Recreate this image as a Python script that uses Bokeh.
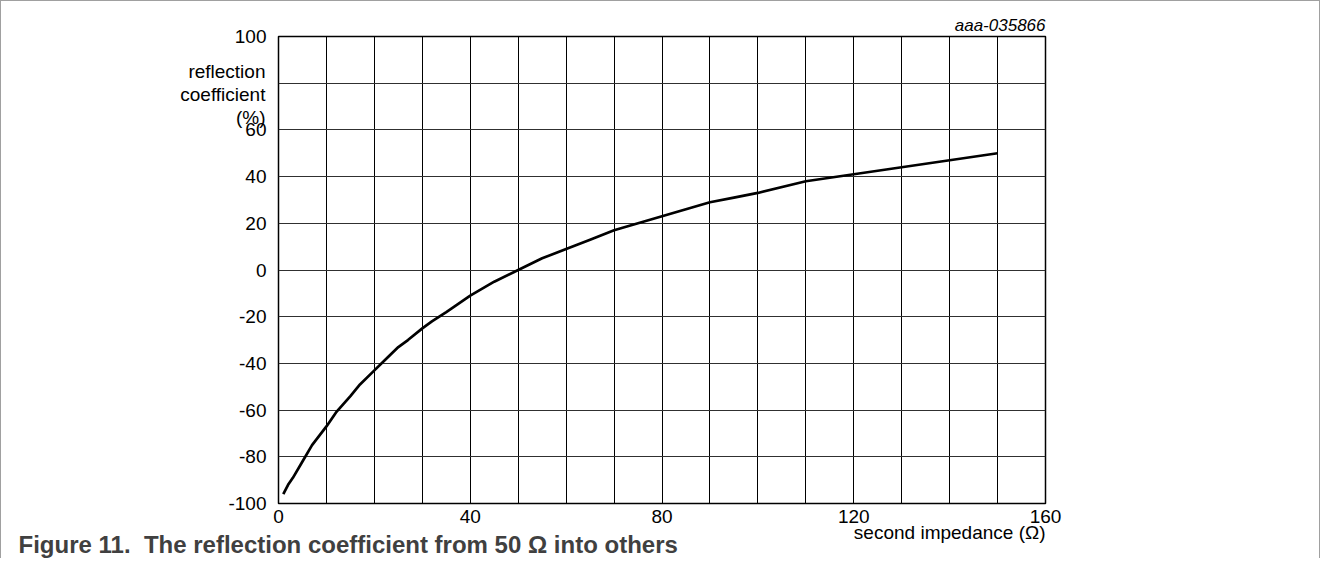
from bokeh.plotting import figure
from bokeh.models import FixedTicker, Range1d, Title
from bokeh.embed import file_html
from bokeh.resources import INLINE

# data
impedance = [1, 2, 3, 5, 7, 10, 12, 15, 17, 20, 22, 25, 27, 30, 32, 35, 40, 45, 50, 55,
             60, 65, 70, 75, 80, 85, 90, 95, 100, 110, 120, 130, 140, 150]
reflection = [-96, -92, -89, -82, -75, -67, -61, -54, -49, -43, -39, -33, -30, -25, -22, -18, -11, -5, 0, 5,
              9, 13, 17, 20, 23, 26, 29, 31, 33, 38, 41, 44, 47, 50]

x_ticks = [0, 40, 80, 120, 160]
x_grid = [0, 10, 20, 30, 40, 50, 60, 70, 80, 90, 100, 110, 120, 130, 140, 150, 160]
y_ticks = [-100, -80, -60, -40, -20, 0, 20, 40, 60, 80, 100]
y_title = "reflection\ncoefficient\n(%)"
x_title = "second impedance (Ω)"
note_text = "aaa-035866"
caption_text = "Figure 11.\u00a0 The reflection coefficient from 50 Ω into others"

FONT = "Liberation Sans"

p = figure(width=1320, height=558, output_backend="svg", toolbar_location=None,
           x_range=Range1d(0, 160), y_range=Range1d(-100, 100),
           min_border_left=277, min_border_right=276, min_border_top=35, min_border_bottom=56)
p.styles = {"border-left": "1px solid #a0a0a0", "border-top": "1px solid #a0a0a0",
            "border-right": "1px solid #a0a0a0"}

p.xaxis.ticker = FixedTicker(ticks=x_ticks, minor_ticks=x_grid)
p.yaxis.ticker = FixedTicker(ticks=y_ticks)
overrides = {t: str(t) for t in y_ticks}
overrides[80] = ""
p.yaxis.major_label_overrides = overrides

for ax in (p.xaxis, p.yaxis):
    ax.axis_line_color = None
    ax.major_tick_line_color = None
    ax.minor_tick_line_color = None
    ax.major_label_text_font = FONT
    ax.major_label_text_font_size = "19px"
    ax.major_label_text_color = "#000000"
    ax.axis_label_text_font = FONT
    ax.axis_label_text_font_size = "19px"
    ax.axis_label_text_font_style = "normal"
    ax.axis_label_text_color = "#000000"
p.xaxis.major_label_standoff = 0
p.yaxis.major_label_standoff = 6

# vertical-axis title: horizontal text at the top-left of the grid
p.yaxis.axis_label = "\n" * 5 + y_title
p.yaxis.axis_label_orientation = "horizontal"
p.yaxis.axis_label_align = "end"
p.yaxis.axis_label_standoff = -40
p.yaxis.axis_label_text_line_height = 1.1

p.xgrid.grid_line_color = "#000000"
p.xgrid.minor_grid_line_color = "#000000"
p.ygrid.grid_line_color = "#303030"
p.outline_line_color = "#000000"
p.outline_line_width = 1.5

p.line(impedance, reflection, line_color="#000000", line_width=2.7)

note = Title(text=note_text, align="right", text_font=FONT, text_font_size="17px",
             text_font_style="italic", text_color="#000000", standoff=3)
p.add_layout(note, "above")

xlab = Title(text=x_title, align="right", text_font=FONT, text_font_size="19px",
             text_font_style="normal", text_color="#000000", standoff=-12)
p.add_layout(xlab, "below")

caption = Title(text=caption_text, align="left", offset=-260, text_font=FONT,
                text_font_size="24px", text_font_style="bold", text_color="#404040",
                standoff=-15)
p.add_layout(caption, "below")

open("out.html", "w").write(file_html(p, INLINE))
